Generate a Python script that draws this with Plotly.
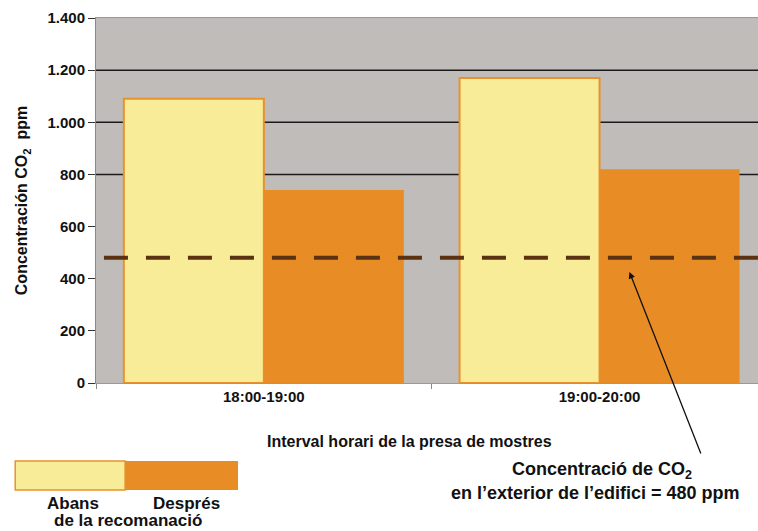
import plotly.graph_objects as go

# ---- data ----
categories = ["18:00-19:00", "19:00-20:00"]
abans = [1090, 1170]
despres = [740, 820]
outdoor_co2 = 480
grid_values = [800, 1000, 1200]
series_names = ["Abans", "Després"]

FONT = "Liberation Sans, Arial, sans-serif"
YELLOW = "#F8EC98"
ORANGE = "#E88C26"
BORDER = "#E8922E"
BG = "#C0BCB9"
TXT = "#111111"

fig = go.Figure()
fig.add_trace(go.Bar(x=categories, y=abans, name=series_names[0],
                     marker=dict(color=YELLOW, line=dict(color=BORDER, width=2))))
fig.add_trace(go.Bar(x=categories, y=despres, name=series_names[1],
                     marker=dict(color=ORANGE, line=dict(color=ORANGE, width=0))))

shapes = []
for g in grid_values:
    shapes.append(dict(type="line", xref="x domain", yref="y", x0=0, x1=1, y0=g, y1=g,
                       line=dict(color="#1a1a1a", width=1.5), layer="below"))
# outdoor concentration dashed line
shapes.append(dict(type="line", xref="x domain", yref="y", x0=0.012, x1=1,
                   y0=outdoor_co2, y1=outdoor_co2,
                   line=dict(color="#5A3212", width=4, dash="24px,18px"), layer="above"))
# custom legend swatches
shapes.append(dict(type="rect", xref="paper", yref="paper", x0=-0.122, x1=0.044,
                   y0=-0.293, y1=-0.214, fillcolor=YELLOW, line=dict(color=BORDER, width=1.5)))
shapes.append(dict(type="rect", xref="paper", yref="paper", x0=0.044, x1=0.2145,
                   y0=-0.293, y1=-0.214, fillcolor=ORANGE, line=dict(color=ORANGE, width=0)))

def txt(text, x, y, size, bold=True):
    return dict(text=f"<b>{text}</b>" if bold else text, xref="paper", yref="paper",
                x=x, y=y, showarrow=False, xanchor="center", yanchor="middle",
                font=dict(family=FONT, size=size, color=TXT))

annotations = [
    txt("Interval horari de la presa de mostres", 0.474, -0.159, 16),
    txt("Concentració de CO<sub>2</sub>", 0.764, -0.241, 18),
    txt("en l’exterior de l’edifici = 480 ppm", 0.754, -0.301, 18),
    dict(x=1.089, y=426, xref="x", yref="y", text="", showarrow=True,
         arrowhead=2, arrowsize=1, arrowwidth=1.3, arrowcolor=TXT,
         ax=72, ay=183, standoff=0),
    txt("Abans", -0.035, -0.331, 17),
    txt("Després", 0.137, -0.331, 17),
    txt("de la recomanació", 0.048, -0.377, 17),
]

fig.update_layout(
    width=758, height=531,
    margin=dict(l=96, r=0, t=18, b=148),
    paper_bgcolor="white", plot_bgcolor=BG,
    barmode="group", bargap=0.166, bargroupgap=0,
    showlegend=False,
    separators=",.",
    shapes=shapes, annotations=annotations,
    font=dict(family=FONT, color=TXT),
)
fig.update_xaxes(type="category", range=[-0.5, 1.472], tickson="boundaries",
                 ticks="outside", ticklen=5, tickcolor="#888", showgrid=False,
                 showline=True, linecolor="#999", linewidth=1, mirror=True,
                 tickfont=dict(family=FONT, size=15, color=TXT),
                 tickprefix="<b>", ticksuffix="</b>")
fig.update_yaxes(range=[0, 1400], dtick=200, separatethousands=True,
                 showgrid=False, zeroline=False, showline=True, linecolor="#888",
                 linewidth=1, ticks="outside", ticklen=7, tickcolor="#333",
                 tickfont=dict(family=FONT, size=15, color=TXT),
                 tickprefix="<b>", ticksuffix="</b>",
                 title=dict(text="<b>Concentración CO<sub>2</sub>  ppm</b>",
                            font=dict(family=FONT, size=16, color=TXT), standoff=15))

fig.write_html("out.html", config={"displayModeBar": False},
               post_script="document.body.style.margin='0px';")
